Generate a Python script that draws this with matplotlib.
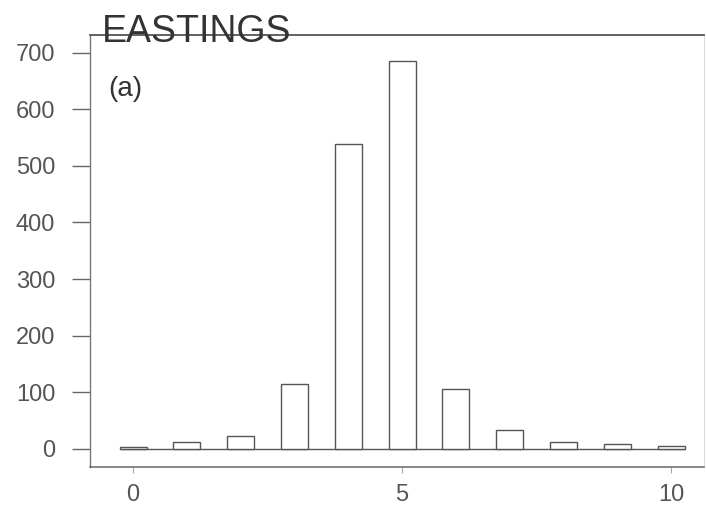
import matplotlib
matplotlib.use("Agg")
import matplotlib.pyplot as plt

# Data
centers = [0, 1, 2, 3, 4, 5, 6, 7, 8, 9, 10]
counts = [4, 13, 23, 115, 538, 685, 106, 34, 13, 8, 5]
y_ticks = [0, 100, 200, 300, 400, 500, 600, 700]
x_ticks = [0, 5, 10]
title_text = "EASTINGS"
panel_label = "(a)"

plt.rcParams['font.family'] = ['Liberation Sans', 'DejaVu Sans']

fig = plt.figure(figsize=(7.06, 5.15), dpi=100)
ax = fig.add_axes([90/706, 1-467/515, (704-90)/706, (467-35)/515])

bar_w = 0.5
ax.bar(centers, counts, width=bar_w, facecolor='white', edgecolor='#555555',
       linewidth=1.0, zorder=3)
ax.hlines(0, centers[0]-bar_w/2, centers[-1]+bar_w/2, color='#555555',
          linewidth=1.0, zorder=2)

ax.set_xlim(-0.80, 10.61)
ax.set_ylim(-32, 731)
ax.set_yticks(y_ticks)
ax.set_xticks(x_ticks)

for side, col, lw in [('left', '#777777', 1.0), ('top', '#555555', 1.3),
                      ('bottom', '#666666', 1.1), ('right', '#dddddd', 0.8)]:
    ax.spines[side].set_color(col)
    ax.spines[side].set_linewidth(lw)

ax.tick_params(axis='y', direction='out', length=13, width=1.0, color='#666666',
               pad=12, labelsize=17, labelcolor='#555555')
ax.tick_params(axis='x', direction='out', length=4, width=0.8, color='#aaaaaa',
               pad=8, labelsize=17, labelcolor='#555555')

fig.text(102/706, 1-42/515, title_text, fontsize=27, color='#333333',
         ha='left', va='baseline')
fig.text(108/706, 1-96/515, panel_label, fontsize=20, color='#333333',
         ha='left', va='baseline')

fig.savefig("out.png", dpi=100, facecolor='white')
